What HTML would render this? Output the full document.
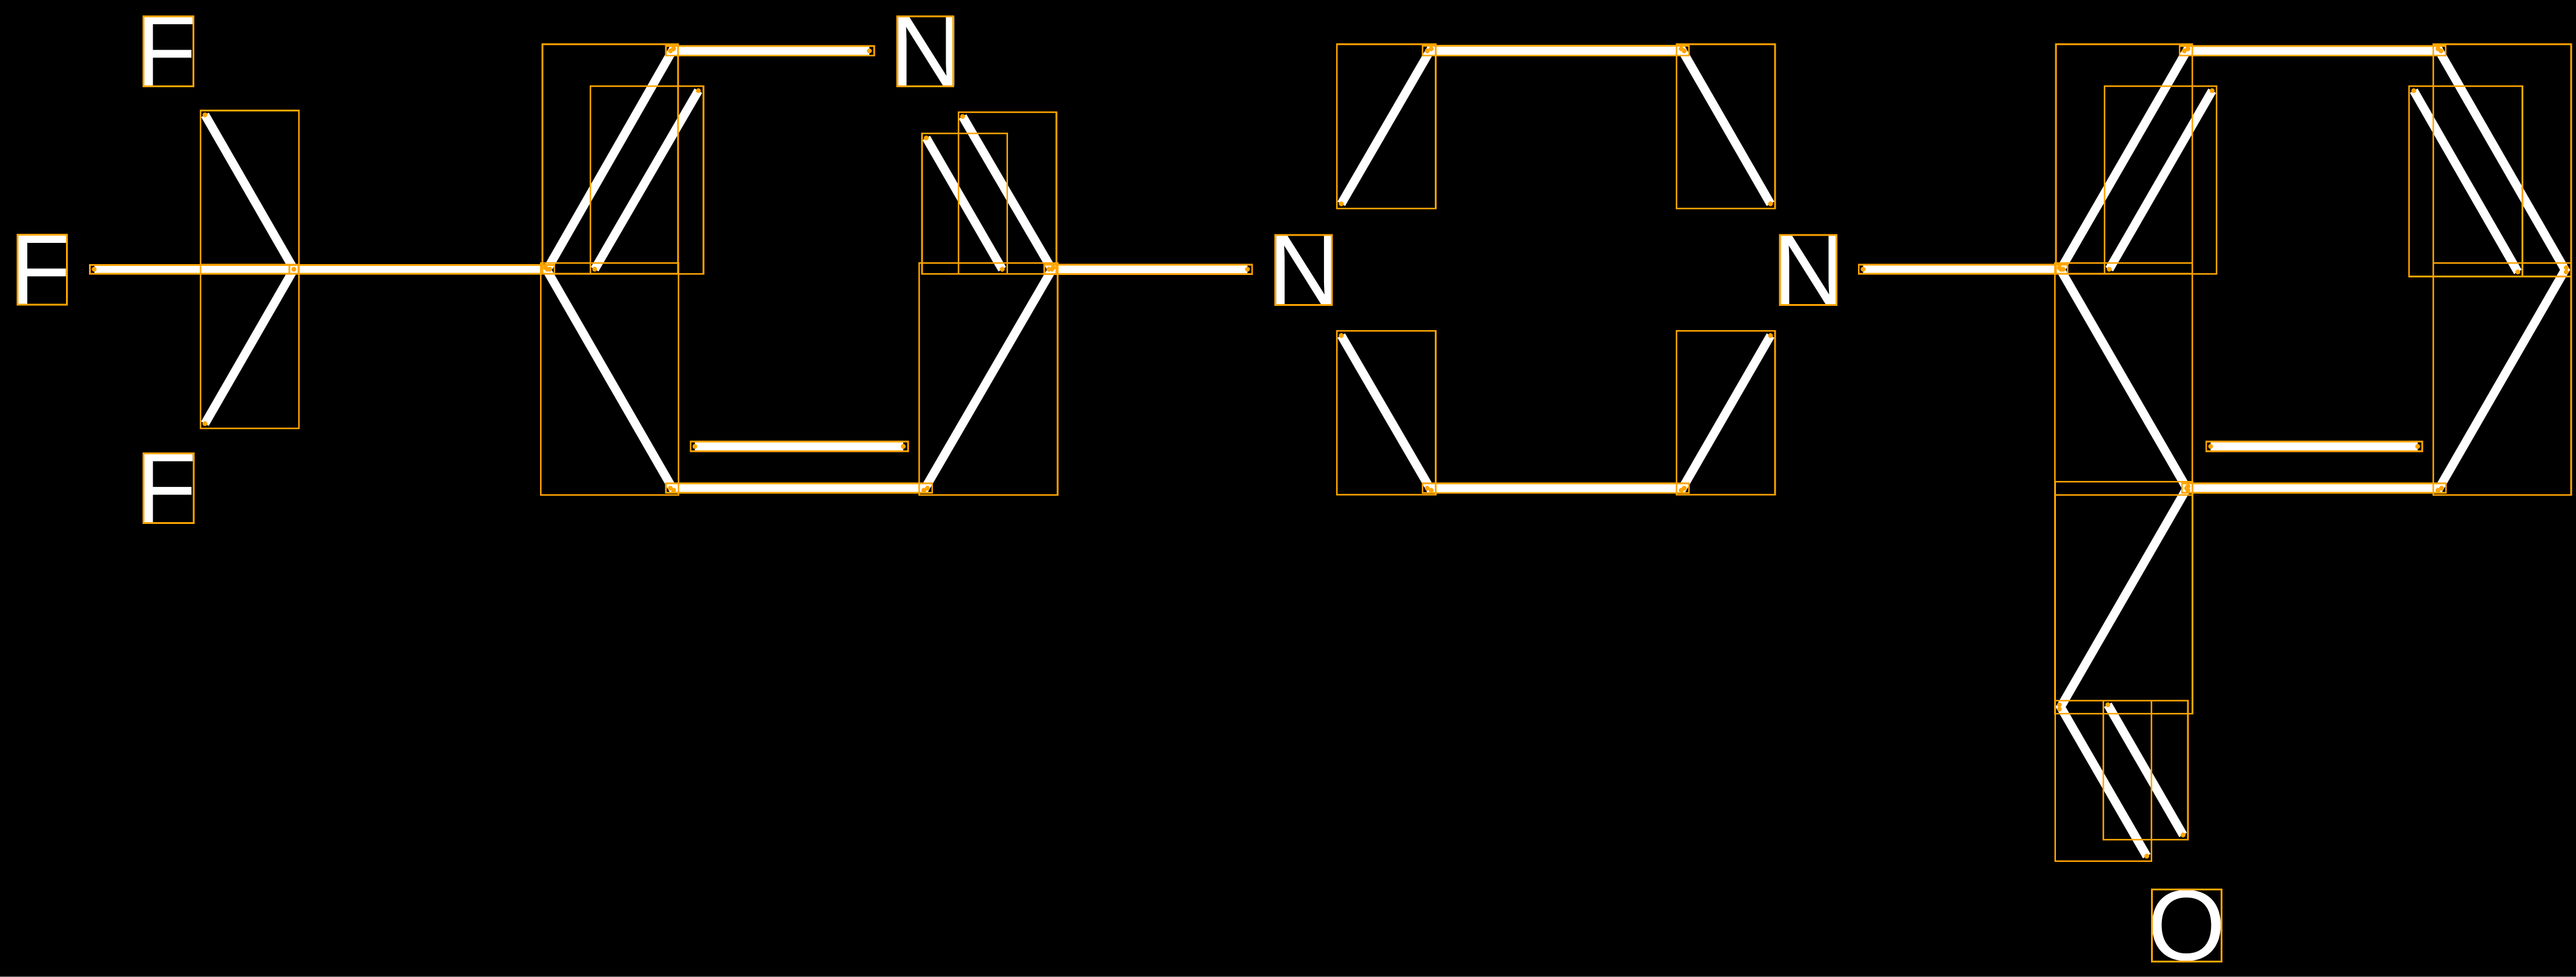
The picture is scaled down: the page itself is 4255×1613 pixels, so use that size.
<!DOCTYPE html>
<html><head><meta charset="utf-8"><title>Molecule</title>
<style>html,body{margin:0;padding:0;background:#000}svg{display:block}
text{font-family:"Liberation Sans",sans-serif;font-size:166px;fill:#fff;text-rendering:geometricPrecision}
.b line{stroke:#fff;stroke-width:14.5;stroke-linecap:butt}
.r rect{fill:none;stroke:#ffa500;stroke-width:2.6;shape-rendering:crispEdges}
.d circle{fill:#ffa500;shape-rendering:crispEdges}</style></head>
<body>
<svg xmlns="http://www.w3.org/2000/svg" width="4255" height="1613" viewBox="0 0 4255 1613">
<rect width="4255" height="1613" fill="#000"/>
<rect x="0" y="1612" width="4255" height="1" fill="#808080"/>
<text x="223.5" y="141.5">F</text>
<text x="16" y="502.5">F</text>
<text x="223.5" y="863">F</text>
<text x="1470" y="141.5">N</text>
<text x="2094.5" y="502.5">N</text>
<text x="2928" y="502.5">N</text>
<text x="3547" y="1585">O</text>
<g class="b">
<line x1="338.6" y1="189.6" x2="485.4" y2="444.5"/>
<line x1="338.5" y1="699.5" x2="485.4" y2="444.5"/>
<line x1="156" y1="444.5" x2="485.4" y2="444.5"/>
<line x1="485.5" y1="444.5" x2="908" y2="444.5"/>
<line x1="904" y1="444.5" x2="1112.5" y2="80.5"/>
<line x1="982.3" y1="444.5" x2="1153.5" y2="149.7"/>
<line x1="1107.5" y1="84" x2="1436" y2="84"/>
<line x1="901" y1="442" x2="1112.8" y2="809.5"/>
<line x1="1107.3" y1="806" x2="1532" y2="806"/>
<line x1="1147.8" y1="737" x2="1492" y2="737"/>
<line x1="1526" y1="809.5" x2="1739.5" y2="442"/>
<line x1="1530" y1="227.7" x2="1655.5" y2="444.5"/>
<line x1="1590" y1="192.3" x2="1737.5" y2="444.5"/>
<line x1="1732.5" y1="444.5" x2="2060.5" y2="444.5"/>
<line x1="2215.5" y1="336.5" x2="2364" y2="80.5"/>
<line x1="2357.5" y1="84" x2="2782" y2="84"/>
<line x1="2777" y1="80.5" x2="2924.5" y2="336.5"/>
<line x1="2215.5" y1="554" x2="2364" y2="809.5"/>
<line x1="2357.5" y1="806" x2="2782" y2="806"/>
<line x1="2924.5" y1="554" x2="2777" y2="809.5"/>
<line x1="3077.5" y1="444.5" x2="3408" y2="444.5"/>
<line x1="3404" y1="444.5" x2="3614" y2="80.5"/>
<line x1="3484" y1="444.5" x2="3654" y2="149.7"/>
<line x1="3608" y1="84" x2="4032" y2="84"/>
<line x1="4027" y1="80.5" x2="4239" y2="449"/>
<line x1="3987" y1="149.7" x2="4159" y2="449"/>
<line x1="4239" y1="442" x2="4027" y2="809.5"/>
<line x1="3612" y1="806" x2="4033" y2="806"/>
<line x1="3651.5" y1="737" x2="3993.5" y2="737"/>
<line x1="3401.7" y1="442" x2="3614" y2="809.5"/>
<line x1="3614" y1="803" x2="3401.7" y2="1170.8"/>
<line x1="3401.7" y1="1163.7" x2="3546" y2="1413.5"/>
<line x1="3481.7" y1="1163.5" x2="3606" y2="1378.5"/>
</g>
<g class="d">
<circle cx="338.6" cy="189.6" r="4"/><circle cx="485.4" cy="444.5" r="4"/>
<circle cx="338.5" cy="699.5" r="4"/>
<circle cx="155.5" cy="444.5" r="4"/>
<circle cx="908" cy="444.5" r="4"/><circle cx="904" cy="444.5" r="4"/><circle cx="901" cy="442" r="4"/>
<circle cx="1112.5" cy="80.5" r="4"/><circle cx="1107.5" cy="84" r="4"/>
<circle cx="982.3" cy="444.5" r="4"/><circle cx="1153.5" cy="149.7" r="4"/>
<circle cx="1436" cy="84" r="4"/>
<circle cx="1112.8" cy="809.5" r="4"/><circle cx="1107.3" cy="806" r="4"/>
<circle cx="1532" cy="806" r="4"/><circle cx="1526" cy="809.5" r="4"/>
<circle cx="1147.8" cy="737" r="4"/><circle cx="1492" cy="737" r="4"/>
<circle cx="1739.5" cy="442" r="4"/><circle cx="1737.5" cy="444.5" r="4"/><circle cx="1732.5" cy="444.5" r="4"/>
<circle cx="1530" cy="227.7" r="4"/><circle cx="1655.5" cy="444.5" r="4"/>
<circle cx="1590" cy="192.3" r="4"/>
<circle cx="2060.5" cy="444.5" r="4"/>
<circle cx="2215.5" cy="336.5" r="4"/><circle cx="2364" cy="80.5" r="4"/><circle cx="2357.5" cy="84" r="4"/>
<circle cx="2782" cy="84" r="4"/><circle cx="2777" cy="80.5" r="4"/><circle cx="2924.5" cy="336.5" r="4"/>
<circle cx="2215.5" cy="554" r="4"/><circle cx="2364" cy="809.5" r="4"/><circle cx="2357.5" cy="806" r="4"/>
<circle cx="2782" cy="806" r="4"/><circle cx="2924.5" cy="554" r="4"/><circle cx="2777" cy="809.5" r="4"/>
<circle cx="3077.5" cy="444.5" r="4"/><circle cx="3408" cy="444.5" r="4"/><circle cx="3404" cy="444.5" r="4"/><circle cx="3401.7" cy="442" r="4"/>
<circle cx="3614" cy="80.5" r="4"/><circle cx="3608" cy="84" r="4"/>
<circle cx="3484" cy="444.5" r="4"/><circle cx="3654" cy="149.7" r="4"/>
<circle cx="4032" cy="84" r="4"/><circle cx="4027" cy="80.5" r="4"/>
<circle cx="4239" cy="449" r="4"/><circle cx="4239" cy="442" r="4"/>
<circle cx="3987" cy="149.7" r="4"/><circle cx="4159" cy="449" r="4"/>
<circle cx="4027" cy="809.5" r="4"/><circle cx="4033" cy="806" r="4"/>
<circle cx="3612" cy="806" r="4"/><circle cx="3614" cy="809.5" r="4"/><circle cx="3614" cy="803" r="4"/>
<circle cx="3651.5" cy="737" r="4"/><circle cx="3993.5" cy="737" r="4"/>
<circle cx="3401.7" cy="1170.8" r="4"/><circle cx="3401.7" cy="1163.7" r="4"/>
<circle cx="3546" cy="1413.5" r="4"/>
<circle cx="3481.7" cy="1163.5" r="4"/><circle cx="3606" cy="1378.5" r="4"/>
</g>
<g class="r">
<rect x="237" y="27" width="82.5" height="115.5"/>
<rect x="29" y="387.5" width="81.5" height="115.5"/>
<rect x="237" y="748.5" width="83" height="115"/>
<rect x="1482" y="27" width="92.5" height="115.5"/>
<rect x="2106.5" y="388" width="93.5" height="115.5"/>
<rect x="2940" y="388" width="93.5" height="115.5"/>
<rect x="3554.5" y="1468.5" width="115" height="119"/>
<rect x="331.4" y="182.5" width="162.2" height="269.5"/>
<rect x="331.2" y="437" width="162.4" height="270.3"/>
<rect x="148.5" y="437.5" width="344.5" height="14.5"/>
<rect x="478" y="437.5" width="437.7" height="14.5"/>
<rect x="896" y="73" width="224" height="379"/>
<rect x="975.4" y="142.3" width="186.6" height="310"/>
<rect x="1100" y="76" width="344" height="15.7"/>
<rect x="893.3" y="434.3" width="227.3" height="383"/>
<rect x="1100" y="798" width="439.7" height="15.5"/>
<rect x="1140.7" y="729" width="359.3" height="16"/>
<rect x="1518.4" y="434.3" width="228.6" height="383"/>
<rect x="1523" y="220.3" width="140.7" height="232"/>
<rect x="1583.3" y="185.3" width="161.7" height="267"/>
<rect x="1725" y="437" width="343.3" height="15.5"/>
<rect x="2208.2" y="73" width="163.3" height="271.2"/>
<rect x="2349.8" y="75.5" width="440" height="16.3"/>
<rect x="2769.4" y="73" width="162.6" height="271.2"/>
<rect x="2208.2" y="546.3" width="163.3" height="270.5"/>
<rect x="2349.8" y="798" width="440" height="15.6"/>
<rect x="2769.4" y="546.3" width="162.6" height="270.5"/>
<rect x="3070.4" y="437" width="345" height="15"/>
<rect x="3396" y="73" width="225.4" height="379"/>
<rect x="3476.4" y="142.3" width="185" height="310"/>
<rect x="3600.3" y="76" width="439.5" height="15.7"/>
<rect x="4019.2" y="73" width="227.8" height="383.5"/>
<rect x="3979.3" y="142.3" width="187.2" height="314.2"/>
<rect x="4019.2" y="434.3" width="227.8" height="383"/>
<rect x="3394.2" y="434.3" width="227.2" height="383"/>
<rect x="3604.3" y="798" width="436.1" height="15.5"/>
<rect x="3644.2" y="729" width="356.8" height="16"/>
<rect x="3394.5" y="795.3" width="227" height="383"/>
<rect x="3394.7" y="1156.7" width="159" height="265"/>
<rect x="3474.3" y="1156.7" width="139.7" height="229.6"/>
</g>
</svg>
</body></html>
